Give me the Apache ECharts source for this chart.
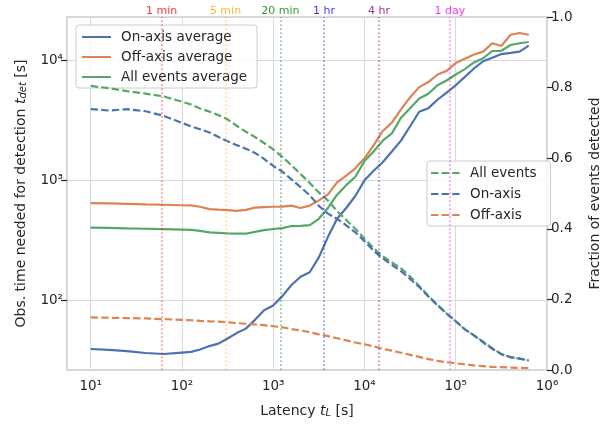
<!DOCTYPE html>
<html><head><meta charset="utf-8">
<script src="https://cdn.jsdelivr.net/npm/echarts@6/dist/echarts.min.js"></script>
<style>html,body{margin:0;padding:0;background:#fff}#c{width:602px;height:426px}</style>
</head><body><div id="c"></div>
<script>
const latency = [10, 16, 25, 40, 63, 100, 126, 158, 200, 251, 316, 398, 501, 631, 794, 1000, 1259, 1585, 1995, 2512, 3162, 3981, 5012, 6310, 7943, 10000, 12589, 15849, 19953, 25119, 31623, 39811, 50119, 63096, 79433, 100000, 125893, 158489, 199526, 251189, 316228, 398107, 501187, 630957];
const onAxisAvg = [39.6, 38.9, 38.0, 36.7, 36.0, 37.0, 37.5, 39.2, 41.9, 43.9, 48.4, 53.7, 58.5, 69.2, 83.2, 91.0, 109, 135, 158, 172, 229, 339, 479, 589, 741, 1000, 1202, 1413, 1738, 2138, 2818, 3715, 3981, 4677, 5370, 6166, 7244, 8511, 9772, 10470, 11220, 11480, 11750, 13180];
const offAxisAvg = [647, 643, 637, 631, 627, 621, 619, 603, 577, 570, 565, 557, 568, 593, 598, 603, 605, 617, 589, 617, 681, 764, 962, 1096, 1259, 1524, 1950, 2570, 3020, 3890, 4898, 5957, 6561, 7586, 8128, 9441, 10230, 11120, 11750, 13800, 13090, 16220, 16790, 16220];
const allAvg = [404, 402, 399, 396, 393, 390, 388, 380, 369, 366, 363, 361, 360, 373, 385, 394, 401, 417, 419, 425, 479, 589, 759, 912, 1072, 1445, 1738, 2138, 2455, 3311, 3981, 4786, 5248, 6166, 6761, 7586, 8414, 9550, 10350, 11890, 11940, 13340, 13800, 14130];
const fracAll = [0.805, 0.798, 0.79, 0.783, 0.775, 0.76, 0.752, 0.741, 0.732, 0.722, 0.71, 0.692, 0.675, 0.66, 0.643, 0.625, 0.604, 0.58, 0.555, 0.53, 0.503, 0.48, 0.45, 0.425, 0.40, 0.372, 0.345, 0.322, 0.305, 0.288, 0.265, 0.238, 0.21, 0.185, 0.16, 0.138, 0.115, 0.098, 0.08, 0.062, 0.045, 0.037, 0.032, 0.027];
const fracOn = [0.739, 0.735, 0.739, 0.733, 0.72, 0.70, 0.69, 0.682, 0.673, 0.66, 0.648, 0.637, 0.627, 0.615, 0.598, 0.578, 0.562, 0.54, 0.518, 0.495, 0.465, 0.443, 0.428, 0.41, 0.39, 0.365, 0.338, 0.316, 0.298, 0.28, 0.258, 0.235, 0.208, 0.183, 0.16, 0.138, 0.115, 0.098, 0.078, 0.06, 0.045, 0.036, 0.032, 0.027];
const fracOff = [0.149, 0.148, 0.147, 0.146, 0.144, 0.142, 0.141, 0.139, 0.138, 0.137, 0.135, 0.133, 0.131, 0.129, 0.127, 0.124, 0.121, 0.116, 0.112, 0.107, 0.101, 0.096, 0.09, 0.084, 0.078, 0.073, 0.067, 0.06, 0.055, 0.049, 0.043, 0.037, 0.031, 0.026, 0.022, 0.019, 0.016, 0.013, 0.011, 0.009, 0.008, 0.007, 0.006, 0.005];
const markTimes = [60, 300, 1200, 3600, 14400, 86400];
const markLabels = ['1 min', '5 min', '20 min', '1 hr', '4 hr', '1 day'];
const markColors = ['255,0,0', '255,165,0', '0,128,0', '0,0,255', '128,0,128', '255,0,255'];
const xTickValues = [10, 100, 1000, 10000, 100000, 1000000];
const yTickValues = [100, 1000, 10000];

const C_BLUE = '#4c72b0', C_ORANGE = '#dd8452', C_GREEN = '#55a868';
const TXT = '#262626';
const FONT = 'DejaVu Sans';
const sup = {'0':'⁰','1':'¹','2':'²','3':'³','4':'⁴','5':'⁵','6':'⁶','7':'⁷','8':'⁸','9':'⁹'};
function powLabel(v) {
  const l = Math.log10(v), e = Math.round(l);
  if (Math.abs(l - e) > 1e-6) return '';
  return '10' + String(e).split('').map(c => sup[c]).join('');
}
function pairs(ys) { return latency.map((x, i) => [x, ys[i]]); }

const DASH = [7.4, 3.2];
const legendCommon = {
  orient: 'vertical',
  itemWidth: 29, itemHeight: 14,
  backgroundColor: 'rgba(255,255,255,0.8)', borderColor: '#cccccc', borderWidth: 1, borderRadius: 3,
  itemStyle: {opacity: 0},
  textStyle: {fontFamily: FONT, fontSize: 13.5, color: TXT, padding: [0, 0, 0, 5]}
};
const chart = echarts.init(document.getElementById('c'), null, {renderer: 'canvas'});
chart.setOption({
  animation: false,
  backgroundColor: '#fff',
  textStyle: {fontFamily: FONT, color: TXT},
  grid: {left: 67, right: 55, top: 17, bottom: 56, outerBoundsMode: 'none', containLabel: false, show: true, borderColor: '#cccccc', borderWidth: 1.5, backgroundColor: 'transparent'},
  legend: [
    Object.assign({}, legendCommon, {
      data: ['On-axis average', 'Off-axis average', 'All events average'],
      left: 76, top: 25, itemGap: 6, padding: [5, 10, 4, 5]
    }),
    Object.assign({}, legendCommon, {
      data: ['All events', 'On-axis', 'Off-axis'],
      left: 427, top: 161, itemGap: 7, padding: [5, 14, 4, 3]
    })
  ],
  xAxis: {
    type: 'log', logBase: 10, min: 5.5, max: 1000000,
    axisLine: {show: false},
    axisTick: {show: false},
    splitLine: {show: true, lineStyle: {color: '#d9d9d9', width: 1}},
    minorTick: {show: false}, minorSplitLine: {show: false},
    axisLabel: {formatter: powLabel, fontSize: 13.5, color: TXT, fontFamily: FONT, margin: 9, customValues: xTickValues, showMinLabel: true, showMaxLabel: true},
    name: '{n|Latency }{i|t}{s|L}{n| [s]}', nameLocation: 'middle', nameGap: 32,
    nameTextStyle: {rich: {
      n: {fontFamily: FONT, fontSize: 14, color: TXT, lineHeight: 16, verticalAlign: 'bottom'},
      i: {fontFamily: FONT, fontSize: 14, color: TXT, fontStyle: 'italic', lineHeight: 16, verticalAlign: 'bottom'},
      s: {fontFamily: FONT, fontSize: 10, color: TXT, fontStyle: 'italic', lineHeight: 6, verticalAlign: 'bottom'}
    }}
  },
  yAxis: [
    {
      type: 'log', logBase: 10, min: 26.5, max: 22800, position: 'left',
      axisLine: {show: false},
      axisTick: {show: true, length: 6, lineStyle: {color: TXT, width: 1.2}, customValues: yTickValues},
      splitLine: {show: true, lineStyle: {color: '#d9d9d9', width: 1}},
      minorTick: {show: false}, minorSplitLine: {show: false},
      axisLabel: {formatter: powLabel, fontSize: 13.5, color: TXT, fontFamily: FONT, margin: 4, customValues: yTickValues},
      name: '{n|Obs. time needed for detection }{i|t}{s|det}{n| [s]}', nameLocation: 'middle', nameGap: 39, nameRotate: 90,
      nameTextStyle: {rich: {
        n: {fontFamily: FONT, fontSize: 14, color: TXT, lineHeight: 16, verticalAlign: 'bottom'},
        i: {fontFamily: FONT, fontSize: 14, color: TXT, fontStyle: 'italic', lineHeight: 16, verticalAlign: 'bottom'},
        s: {fontFamily: FONT, fontSize: 10, color: TXT, fontStyle: 'italic', lineHeight: 6, verticalAlign: 'bottom'}
      }}
    },
    {
      type: 'value', min: 0, max: 1, interval: 0.2, position: 'right',
      axisLine: {show: false},
      axisTick: {show: true, length: 6, lineStyle: {color: TXT, width: 1.2}},
      splitLine: {show: false},
      axisLabel: {formatter: v => v.toFixed(1), fontSize: 13.5, color: TXT, fontFamily: FONT, margin: 4},
      name: 'Fraction of events detected', nameLocation: 'middle', nameGap: 41, nameRotate: 90,
      nameTextStyle: {fontFamily: FONT, fontSize: 14, color: TXT}
    }
  ],
  series: [
    {
      name: 'On-axis average', type: 'line', yAxisIndex: 0, data: pairs(onAxisAvg),
      symbol: 'none', lineStyle: {color: C_BLUE, width: 2.2}, itemStyle: {color: C_BLUE}, z: 3,
      markLine: {
        silent: true, symbol: 'none', animation: false,
        data: markTimes.map((t, i) => ({
          xAxis: t,
          lineStyle: {color: 'rgba(' + markColors[i] + ',0.55)', type: [1.5, 2.5], width: 1.5},
          label: {show: true, position: 'end', distance: 0, formatter: markLabels[i], color: 'rgba(' + markColors[i] + ',0.8)', fontSize: 11, fontFamily: FONT}
        }))
      }
    },
    {name: 'Off-axis average', type: 'line', yAxisIndex: 0, data: pairs(offAxisAvg), symbol: 'none', lineStyle: {color: C_ORANGE, width: 2.2}, itemStyle: {color: C_ORANGE}, z: 3},
    {name: 'All events average', type: 'line', yAxisIndex: 0, data: pairs(allAvg), symbol: 'none', lineStyle: {color: C_GREEN, width: 2.2}, itemStyle: {color: C_GREEN}, z: 3},
    {name: 'All events', type: 'line', yAxisIndex: 1, data: pairs(fracAll), symbol: 'none', lineStyle: {color: C_GREEN, width: 2.2, type: DASH}, itemStyle: {color: C_GREEN}, z: 4},
    {name: 'On-axis', type: 'line', yAxisIndex: 1, data: pairs(fracOn), symbol: 'none', lineStyle: {color: C_BLUE, width: 2.2, type: DASH}, itemStyle: {color: C_BLUE}, z: 4},
    {name: 'Off-axis', type: 'line', yAxisIndex: 1, data: pairs(fracOff), symbol: 'none', lineStyle: {color: C_ORANGE, width: 2.2, type: DASH}, itemStyle: {color: C_ORANGE}, z: 4}
  ]
});
</script>
</body></html>
